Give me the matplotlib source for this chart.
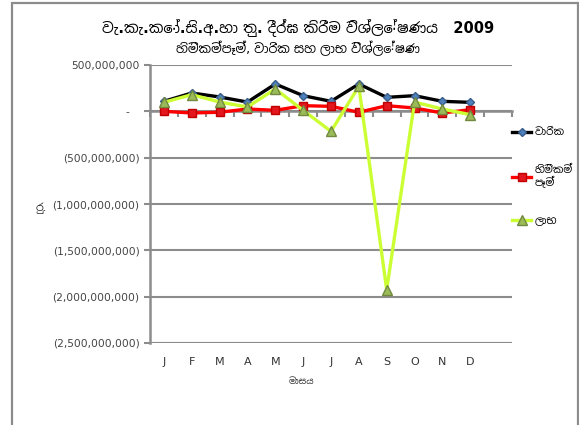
import numpy as np
import matplotlib
matplotlib.use('Agg')
import matplotlib.pyplot as plt
from matplotlib.patches import Rectangle
from matplotlib.ticker import FuncFormatter, FixedLocator

plt.rcParams['font.family'] = ['DejaVu Sans', 'Noto Sans Sinhala']

months = ['J', 'F', 'M', 'A', 'M', 'J', 'J', 'A', 'S', 'O', 'N', 'D']
premiums = [108e6, 198e6, 155e6, 100e6, 295e6, 169e6, 108e6, 295e6, 151e6, 169e6, 108e6, 97e6]
claims = [0, -18e6, -10e6, 25e6, 11e6, 61e6, 54e6, -10e6, 61e6, 36e6, -18e6, 18e6]
profit = [97e6, 180e6, 100e6, 47e6, 241e6, 11e6, -216e6, 270e6, -1925e6, 100e6, 25e6, -36e6]

title = 'වැ.කැ.කෝ.සි.අ.හා තු. දීර්ඝ කිරීම විශ්ලේෂණය   2009'
subtitle = 'හිමිකම්පෑම්, වාරික සහ ලාභ විශ්ලේෂණ'
labels = ['වාරික', 'හිමිකම්\nපෑම්', 'ලාභ']

fig = plt.figure(figsize=(5.79, 4.25), dpi=100)
fig.patches.append(Rectangle((12 / 579, -0.05), 566 / 579, 1.043, transform=fig.transFigure,
                             fill=False, edgecolor='#8c8c8c', linewidth=1.6))
ax = fig.add_axes([150 / 579, 1 - 343 / 425, 362 / 579, 278 / 425])

x = np.arange(len(months))
ax.plot(x, premiums, '-', color='black', lw=2.4, marker='D', ms=4.5,
        mfc='#4f81bd', mec='#385d8a', label=labels[0], zorder=3)
ax.plot(x, claims, '-', color='#ff0000', lw=2.4, marker='s', ms=6,
        mfc='#e3161e', mec='#c00000', label=labels[1], zorder=4)
ax.plot(x, profit, '-', color='#ccff33', lw=2.4, marker='^', ms=6.5,
        mfc='#9bbb59', mec='#71893f', label=labels[2], zorder=5)

ax.set_xlim(-0.5, 12.5)
ax.set_ylim(-2.5e9, 0.5e9)
ax.set_yticks(np.arange(-2.5e9, 0.51e9, 0.5e9))


def fmt(v, pos):
    if abs(v) < 1:
        return '-   '
    if v < 0:
        return '({:,.0f})'.format(-v)
    return '{:,.0f}'.format(v)


ax.yaxis.set_major_formatter(FuncFormatter(fmt))
ax.tick_params(axis='y', colors='#8c8c8c', labelcolor='#444444', labelsize=7.7,
               length=4, width=1.5, direction='out')
ax.grid(axis='y', color='#8c8c8c', lw=1.5)
ax.set_axisbelow(True)

for s in ['top', 'right']:
    ax.spines[s].set_visible(False)
ax.spines['left'].set_color('#8c8c8c')
ax.spines['left'].set_linewidth(1.8)
ax.spines['bottom'].set_position(('data', 0))
ax.spines['bottom'].set_color('#8c8c8c')
ax.spines['bottom'].set_linewidth(1.8)
ax.xaxis.set_major_locator(FixedLocator(np.arange(-0.5, 13, 1)))
ax.tick_params(axis='x', colors='#8c8c8c', length=4, width=1.5, labelbottom=False)

sec = ax.secondary_xaxis(0)
sec.set_xticks(x)
sec.set_xticklabels(months)
sec.tick_params(length=0, labelsize=8, labelcolor='#333333', pad=10)
sec.spines['bottom'].set_visible(False)

ax.axhline(-2.5e9, color='#8c8c8c', lw=2.2, zorder=1)

fig.text(0.515, 1 - 28 / 425, title, ha='center', va='center', fontsize=10.5, fontweight='bold')
fig.text(0.515, 1 - 48 / 425, subtitle, ha='center', va='center', fontsize=9)
fig.text(0.072, 1 - 208 / 425, 'රු.', ha='center', va='center', fontsize=8, color='#333333')
fig.text(0.52, 1 - 382 / 425, 'මාසය', ha='center', va='center', fontsize=6.5, color='#333333')

fig.legend(loc='upper left', bbox_to_anchor=(503 / 579, 1 - 118 / 425), frameon=False,
           fontsize=7.5, handlelength=1.8, labelspacing=2.6, handletextpad=0.3)

fig.savefig('out.png', dpi=100)
